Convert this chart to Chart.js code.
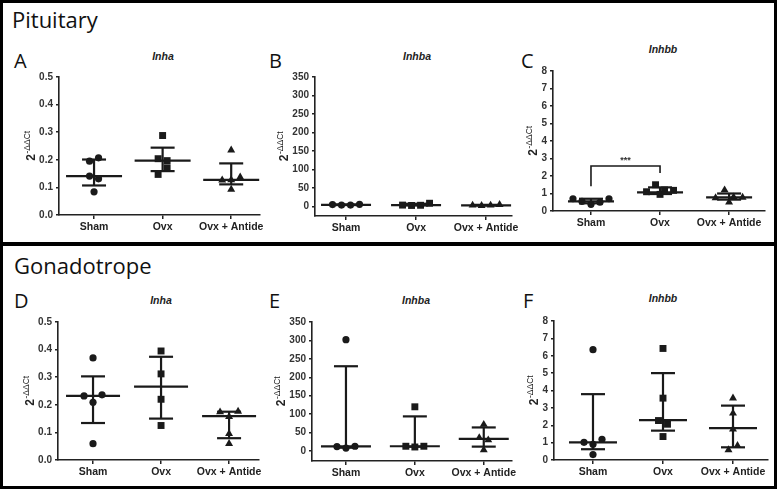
<!DOCTYPE html>
<html><head><meta charset="utf-8">
<script src="https://cdn.jsdelivr.net/npm/chart.js@4/dist/chart.umd.min.js"></script>
<style>
body{margin:0;background:#fff;width:780px;height:494px;position:relative;overflow:hidden;}
.box{position:absolute;border:3px solid #000;box-sizing:border-box;}
.sec{position:absolute;font:22px/1 "Open Sans",sans-serif;color:#111;}
.let{position:absolute;font:20px/1 "Open Sans",sans-serif;color:#111;}
.ttl{position:absolute;font:italic bold 10.5px/1 "Liberation Sans",Arial,sans-serif;transform:translate(-50%,-50%);color:#222;white-space:nowrap;}
canvas{position:absolute;}
</style></head><body>
<div class="box" style="left:0;top:0;width:777px;height:245px"></div>
<div class="box" style="left:0;top:243px;width:777px;height:246px"></div>
<div class="sec" style="left:12px;top:8px">Pituitary</div>
<div class="sec" style="left:14px;top:254px">Gonadotrope</div>
<div class="let" style="left:14px;top:51px">A</div>
<div class="let" style="left:269px;top:51px">B</div>
<div class="let" style="left:521px;top:51px">C</div>
<div class="let" style="left:14px;top:291px">D</div>
<div class="let" style="left:269px;top:291px">E</div>
<div class="let" style="left:523px;top:291px">F</div>
<div class="ttl" style="left:163px;top:56px">Inha</div>
<div class="ttl" style="left:417px;top:56px">Inhba</div>
<div class="ttl" style="left:663px;top:49px">Inhbb</div>
<div class="ttl" style="left:161px;top:300px">Inha</div>
<div class="ttl" style="left:416px;top:300px">Inhba</div>
<div class="ttl" style="left:663px;top:298px">Inhbb</div>
<script>
// ---------- data ----------
const groups = ['Sham', 'Ovx', 'Ovx + Antide'];
const inhaTicks = [0, 0.1, 0.2, 0.3, 0.4, 0.5];
const inhbaTicks = [0, 50, 100, 150, 200, 250, 300, 350];
const inhbbTicks = [0, 1, 2, 3, 4, 5, 6, 7, 8];

// Pituitary Inha (A)
const pitInhaSham = [0.195, 0.207, 0.141, 0.131, 0.084];
const pitInhaOvx = [0.288, 0.204, 0.197, 0.147, 0.171];
const pitInhaAntide = [0.235, 0.126, 0.127, 0.137, 0.093];
const pitInhaMedian = [0.141, 0.197, 0.127];
const pitInhaQ1 = [0.107, 0.159, 0.111];
const pitInhaQ3 = [0.201, 0.244, 0.187];

// Pituitary Inhba (B)
const pitInhbaSham = [5, 3.5, 3.5, 5.5];
const pitInhbaOvx = [3.5, 2.5, 3, 8.5];
const pitInhbaAntide = [3, 2, 3, 4.5];
const pitInhbaMedian = [4.2, 3.2, 3];
const pitInhbaQ1 = [3.5, 2.7, 2.2];
const pitInhbaQ3 = [5.4, 7.2, 4.2];

// Pituitary Inhbb (C)
const pitInhbbSham = [0.7, 0.55, 0.38, 0.5, 0.7];
const pitInhbbOvx = [1.1, 0.95, 1.5, 1.2, 1.18];
const pitInhbbAntide = [0.75, 0.5, 1.2, 0.8, 0.78];
const pitInhbbMedian = [0.55, 1.07, 0.78];
const pitInhbbQ1 = [0.44, 0.97, 0.65];
const pitInhbbQ3 = [0.7, 1.35, 1.0];
const pitInhbbSig = ['***'];
const pitInhbbSigLevels = [1.41, 2.57, 2.17]; // left foot, bracket top, right foot

// Gonadotrope Inha (D)
const gonInhaSham = [0.370, 0.232, 0.209, 0.236, 0.059];
const gonInhaOvx = [0.395, 0.312, 0.220, 0.125];
const gonInhaAntide = [0.174, 0.157, 0.176, 0.095, 0.059];
const gonInhaMedian = [0.232, 0.266, 0.159];
const gonInhaQ1 = [0.134, 0.150, 0.079];
const gonInhaQ3 = [0.303, 0.374, 0.175];

// Gonadotrope Inhba (E)
const gonInhbaSham = [302, 12, 8, 13];
const gonInhbaOvx = [120, 13, 11, 13];
const gonInhbaAntide = [72, 36, 30, 3];
const gonInhbaMedian = [12.5, 13, 33];
const gonInhbaQ1 = [9, 11.5, 12];
const gonInhbaQ3 = [230, 94, 64];

// Gonadotrope Inhbb (F)
const gonInhbbSham = [6.35, 1.02, 0.9, 1.19, 0.31];
const gonInhbbOvx = [6.42, 3.56, 2.27, 2.06, 1.35];
const gonInhbbAntide = [3.56, 2.69, 1.77, 0.58, 0.83];
const gonInhbbMedian = [1.02, 2.29, 1.83];
const gonInhbbQ1 = [0.62, 1.69, 0.73];
const gonInhbbQ3 = [3.79, 5.0, 3.13];

// ---------- layout ----------
const YW = 45, XH = 34, PT = 14, PR = 14;
const INK = '#1a1a1a';
const panels = [
  {axisX:59, top:77, bottom:215, xEnd:260, ymin:0, ymax:0.5, yt:inhaTicks, dec:1, xmin:-0.511, xmax:2.42, mw:28,
   sets:[pitInhaSham, pitInhaOvx, pitInhaAntide], med:pitInhaMedian, lo:pitInhaQ1, hi:pitInhaQ3},
  {axisX:315, top:77, bottom:216, xEnd:512, ymin:-26, ymax:350, yt:inhbaTicks, dec:0, xmin:-0.443, xmax:2.37, mw:25,
   sets:[pitInhbaSham, pitInhbaOvx, pitInhbaAntide], med:pitInhbaMedian, lo:pitInhbaQ1, hi:pitInhbaQ3},
  {axisX:553, top:71, bottom:211, xEnd:765, ymin:0, ymax:8, yt:inhbbTicks, dec:0, xmin:-0.55, xmax:2.52, mw:23,
   sets:[pitInhbbSham, pitInhbbOvx, pitInhbbAntide], med:pitInhbbMedian, lo:pitInhbbQ1, hi:pitInhbbQ3,
   sig:{label:pitInhbbSig[0], lv:pitInhbbSigLevels}},
  {axisX:58, top:322, bottom:460, xEnd:259, ymin:0, ymax:0.5, yt:inhaTicks, dec:1, xmin:-0.515, xmax:2.44, mw:27,
   sets:[gonInhaSham, gonInhaOvx, gonInhaAntide], med:gonInhaMedian, lo:gonInhaQ1, hi:gonInhaQ3},
  {axisX:312, top:322, bottom:461, xEnd:512, ymin:-27, ymax:350, yt:inhbaTicks, dec:0, xmin:-0.493, xmax:2.41, mw:25,
   sets:[gonInhbaSham, gonInhbaOvx, gonInhbaAntide], med:gonInhbaMedian, lo:gonInhbaQ1, hi:gonInhbaQ3},
  {axisX:554, top:321, bottom:460, xEnd:768, ymin:0, ymax:8, yt:inhbbTicks, dec:0, xmin:-0.557, xmax:2.5, mw:24,
   sets:[gonInhbbSham, gonInhbbOvx, gonInhbbAntide], med:gonInhbbMedian, lo:gonInhbbQ1, hi:gonInhbbQ3},
];

const TICK_FONT = {family:'"Liberation Sans", Arial, sans-serif', size:10, weight:'bold'};
const XLAB_FONT = {family:'"Liberation Sans", Arial, sans-serif', size:10.5, weight:'bold'};

// beeswarm-style horizontal spreading of overlapping points (pixel space)
const swarm = {
  id:'swarm',
  afterDatasetsUpdate(chart){
    const D = 9, T = 8;
    chart.data.datasets.forEach((ds, di) => {
      const meta = chart.getDatasetMeta(di);
      const pts = meta.data.map((el, j) => ({el, j, y:el.y}));
      const sorted = pts.slice().sort((a, b) => a.y - b.y);
      const rows = [];
      sorted.forEach(p => {
        const r = rows[rows.length - 1];
        if (r && p.y - r[0].y < T) r.push(p); else rows.push([p]);
      });
      rows.forEach(r => {
        r.sort((a, b) => a.j - b.j);
        r.forEach((p, k) => { p.el.x += (k - (r.length - 1) / 2) * D; });
      });
    });
  }
};

function line(ctx, x1, y1, x2, y2){ ctx.beginPath(); ctx.moveTo(x1, y1); ctx.lineTo(x2, y2); ctx.stroke(); }

function makeDecor(p){
  return {
    id:'decor',
    afterDatasetsDraw(chart){
      const {ctx, scales:{x, y}, chartArea} = chart;
      ctx.save();
      ctx.strokeStyle = INK; ctx.lineWidth = 2.2; ctx.lineCap = 'butt';
      p.med.forEach((m, i) => {
        const cx = x.getPixelForValue(i);
        const ym = y.getPixelForValue(m), yl = y.getPixelForValue(p.lo[i]), yh = y.getPixelForValue(p.hi[i]);
        line(ctx, cx - p.mw, ym, cx + p.mw, ym);
        line(ctx, cx, yl, cx, yh);
        line(ctx, cx - 12, yl, cx + 12, yl);
        line(ctx, cx - 12, yh, cx + 12, yh);
      });
      if (p.sig){
        const xa = x.getPixelForValue(0), xb = x.getPixelForValue(1);
        const yA = y.getPixelForValue(p.sig.lv[0]), yT = y.getPixelForValue(p.sig.lv[1]), yB = y.getPixelForValue(p.sig.lv[2]);
        ctx.lineWidth = 1.6;
        ctx.beginPath(); ctx.moveTo(xa, yA); ctx.lineTo(xa, yT); ctx.lineTo(xb, yT); ctx.lineTo(xb, yB); ctx.stroke();
        ctx.fillStyle = '#333'; ctx.font = 'bold 9px "Liberation Sans", Arial, sans-serif';
        ctx.textAlign = 'center'; ctx.textBaseline = 'bottom';
        ctx.fillText(p.sig.label, (xa + xb) / 2, yT - 1);
      }
      // y-axis title 2^-ΔΔCt
      ctx.font = 'bold 10px "Liberation Sans", Arial, sans-serif';
      let maxW = 0;
      y.ticks.forEach(t => { maxW = Math.max(maxW, ctx.measureText(y.getLabelForValue ? String(t.label) : '').width); });
      const baseX = chartArea.left - 3 - 3 - maxW - 4;
      const cy = (chartArea.top + chartArea.bottom) / 2;
      ctx.translate(baseX, cy);
      ctx.rotate(-Math.PI / 2);
      ctx.fillStyle = '#222';
      const f1 = 'bold 12px "Liberation Sans", Arial, sans-serif';
      const f2 = '8.5px "Liberation Sans", Arial, sans-serif';
      ctx.font = f1; const w1 = ctx.measureText('2').width;
      ctx.font = f2; const w2 = ctx.measureText('-\u0394\u0394Ct').width;
      const x0 = -(w1 + w2) / 2;
      ctx.textAlign = 'left'; ctx.textBaseline = 'alphabetic';
      ctx.font = f1; ctx.fillText('2', x0, 0);
      ctx.font = f2; ctx.fillText('-\u0394\u0394Ct', x0 + w1 + 0.5, -5);
      ctx.restore();
    }
  };
}

const styles = [
  {pointStyle:'circle', radius:3.6},
  {pointStyle:'rect', radius:4.9},
  {pointStyle:'triangle', radius:4.6},
];

panels.forEach(p => {
  const cv = document.createElement('canvas');
  const w = Math.round(YW + (p.xEnd - p.axisX) + PR);
  const h = Math.round(PT + (p.bottom - p.top) + XH);
  cv.width = w; cv.height = h;
  cv.style.left = (p.axisX - YW) + 'px';
  cv.style.top = (p.top - PT) + 'px';
  document.body.appendChild(cv);
  new Chart(cv, {
    type:'scatter',
    data:{
      datasets: p.sets.map((vals, i) => ({
        data: vals.map(v => ({x:i, y:v})),
        pointStyle: styles[i].pointStyle,
        pointRadius: styles[i].radius,
        backgroundColor: INK, borderColor: INK, borderWidth: 0,
        clip: false,
      }))
    },
    options:{
      responsive:false, animation:false, events:[],
      layout:{padding:{top:PT, right:PR, left:0, bottom:0}},
      plugins:{legend:{display:false}, tooltip:{enabled:false}, title:{display:false}},
      scales:{
        x:{
          type:'linear', min:p.xmin, max:p.xmax,
          afterBuildTicks: s => { s.ticks = groups.map((g, i) => ({value:i})); },
          afterFit: s => { s.height = XH; },
          ticks:{callback: v => groups[v], font:XLAB_FONT, color:'#222', padding:2, autoSkip:false, maxRotation:0},
          grid:{display:true, drawOnChartArea:false, drawTicks:true, tickLength:4, color:'#222', lineWidth:1.5},
          border:{display:true, color:'#222', width:1.6},
        },
        y:{
          type:'linear', min:p.ymin, max:p.ymax,
          afterBuildTicks: s => { s.ticks = p.yt.map(v => ({value:v})); },
          afterFit: s => { s.width = YW; },
          ticks:{callback: v => Number(v).toFixed(p.dec), font:TICK_FONT, color:'#333', padding:3, autoSkip:false},
          grid:{display:true, drawOnChartArea:false, drawTicks:true, tickLength:3, color:'#222', lineWidth:1.5},
          border:{display:true, color:'#222', width:1.6},
        }
      }
    },
    plugins:[swarm, makeDecor(p)]
  });
});
</script>
</body></html>
